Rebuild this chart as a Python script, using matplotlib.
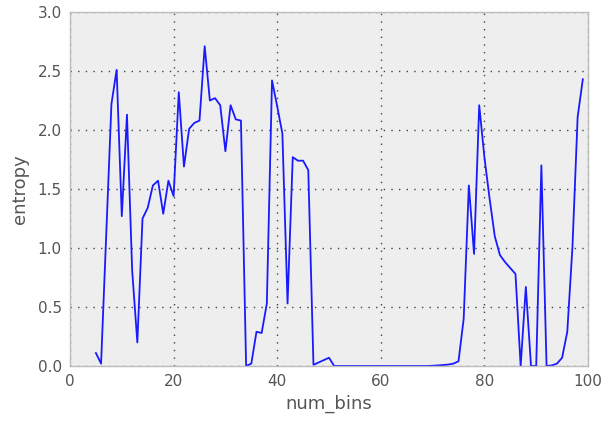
import matplotlib
matplotlib.use("Agg")
import matplotlib.pyplot as plt
import numpy as np

num_bins = list(range(5, 100))
entropy = [
    0.11, 0.02, 1.12, 2.22, 2.51, 1.27, 2.13, 0.81, 0.20, 1.25,   # 5-14
    1.34, 1.53, 1.57, 1.29, 1.57, 1.44, 2.32, 1.69, 2.01, 2.06,   # 15-24
    2.08, 2.71, 2.25, 2.27, 2.21, 1.82, 2.21, 2.09, 2.08, 0.00,   # 25-34
    0.02, 0.29, 0.28, 0.53, 2.42, 2.20, 1.97, 0.53, 1.77, 1.74,   # 35-44
    1.74, 1.66, 0.01, 0.03, 0.05, 0.07, 0.00, 0.00, 0.00, 0.00,   # 45-54
    0.00, 0.00, 0.00, 0.00, 0.00, 0.00, 0.00, 0.00, 0.00, 0.00,   # 55-64
    0.00, 0.00, 0.00, 0.00, 0.00, 0.002, 0.005, 0.008, 0.012, 0.02,  # 65-74
    0.04, 0.40, 1.53, 0.95, 2.21, 1.77, 1.42, 1.10, 0.94, 0.88,   # 75-84
    0.83, 0.78, 0.00, 0.67, 0.00, 0.00, 1.70, 0.00, 0.005, 0.02,  # 85-94
    0.07, 0.29, 1.01, 2.11, 2.43,                                 # 95-99
]

fig = plt.figure(figsize=(6.11, 4.23), dpi=100)
ax = fig.add_axes([70/611, 1-366/423, (588-70)/611, (366-12)/423])
ax.set_facecolor("#eeeeee")
ax.plot(num_bins, entropy, color="#1a1aff", lw=1.3)
ax.set_xlim(0, 100)
ax.set_ylim(0, 3.0)
ax.set_xticks([0, 20, 40, 60, 80, 100])
ax.set_yticks([0.0, 0.5, 1.0, 1.5, 2.0, 2.5, 3.0])
ax.set_yticklabels(["0.0", "0.5", "1.0", "1.5", "2.0", "2.5", "3.0"])
ax.grid(True, color="#444444", linestyle=(0, (1, 4.5)), lw=1.0)
ax.set_axisbelow(True)
for s in ax.spines.values():
    s.set_color("#bcbcbc")
    s.set_linewidth(1.0)
ax.tick_params(length=0, labelsize=11, labelcolor="#555555", pad=6)
ax.set_xlabel("num_bins", fontsize=13, color="#555555")
ax.set_ylabel("entropy", fontsize=13, color="#555555", labelpad=6)
fig.savefig("out.png", dpi=100)
